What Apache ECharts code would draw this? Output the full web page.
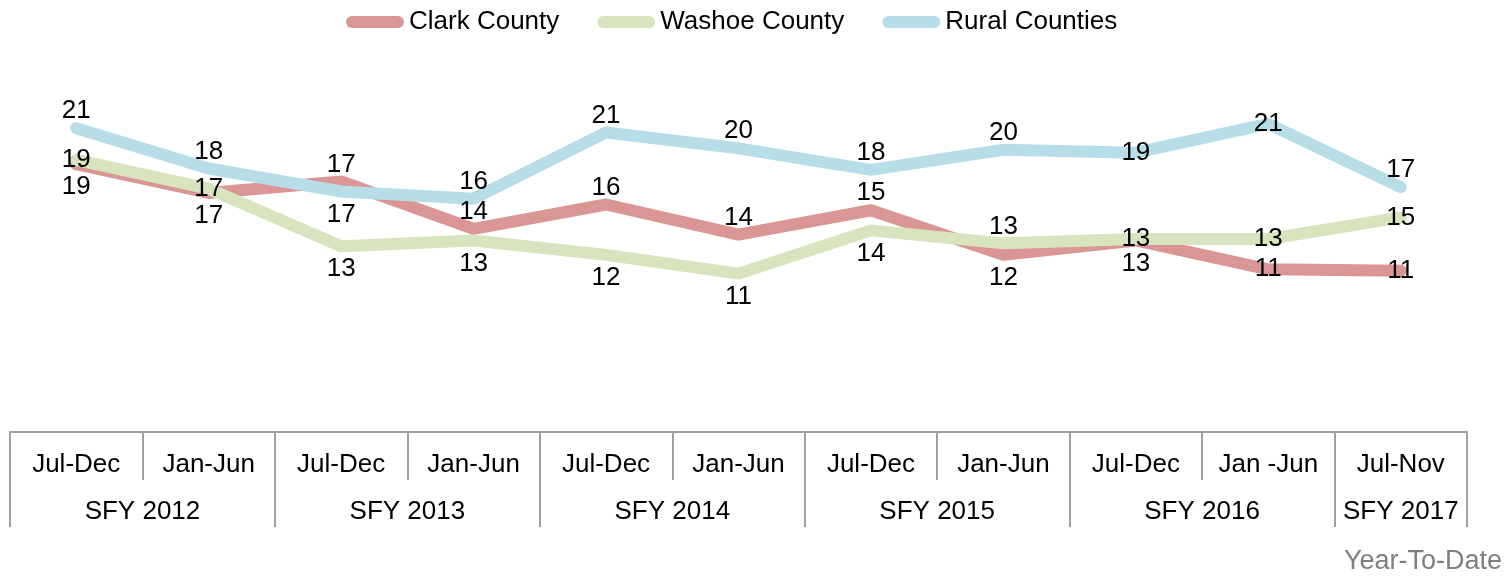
<!DOCTYPE html>
<html>
<head>
<meta charset="utf-8">
<title>Average by County Group</title>
<script src="https://cdn.jsdelivr.net/npm/echarts@6/dist/echarts.min.js"></script>
<style>
  html, body { margin: 0; padding: 0; background: #ffffff; }
  #chart { width: 1511px; height: 577px; }
</style>
</head>
<body>
<div id="chart"></div>
<script>
// Half-year periods along the bottom axis
const periods = ['Jul-Dec', 'Jan-Jun', 'Jul-Dec', 'Jan-Jun', 'Jul-Dec', 'Jan-Jun',
                 'Jul-Dec', 'Jan-Jun', 'Jul-Dec', 'Jan -Jun', 'Jul-Nov'];
// State fiscal years and how many periods each one covers
const years = ['SFY 2012', 'SFY 2013', 'SFY 2014', 'SFY 2015', 'SFY 2016', 'SFY 2017'];
const yearSpans = [2, 2, 2, 2, 2, 1];

// Series values per period
const clark  = [18.6, 16.6, 17.4, 14.1, 15.8, 13.7, 15.4, 12.3, 13.3, 11.3, 11.2];
const washoe = [18.9, 16.9, 12.9, 13.3, 12.3, 11.0, 14.0, 13.1, 13.4, 13.4, 14.9];
const rural  = [21.1, 18.3, 16.7, 16.2, 20.8, 19.7, 18.2, 19.6, 19.4, 21.4, 17.0];

// Where each value label sits relative to its point
const clarkLabelPos  = ['bottom', 'bottom', 'top', 'top', 'top', 'top', 'top', 'bottom', 'bottom', 'inside', 'inside'];
const washoeLabelPos = ['inside', 'inside', 'bottom', 'bottom', 'bottom', 'bottom', 'bottom', 'top', 'inside', 'inside', 'inside'];
const ruralLabelPos  = ['top', 'top', 'bottom', 'top', 'top', 'top', 'top', 'top', 'inside', 'inside', 'top'];

const FONT = '"Liberation Sans", Arial, sans-serif';
const RULE = '#a0a0a0';
const LABEL_GAP = { top: 4, bottom: 10, inside: 0 };

// first period index of each fiscal year, and the centre of each year's span
const yearStarts = [];
const yearCenters = [];
let acc = 0;
yearSpans.forEach(function (s) {
  yearStarts.push(acc);
  yearCenters.push(acc + s / 2);
  acc += s;
});

function lineSeries(name, values, color, labelPos) {
  return {
    name: name,
    type: 'line',
    xAxisIndex: 0,
    data: values.map(function (v, i) {
      return { value: v, label: { position: labelPos[i], distance: LABEL_GAP[labelPos[i]] } };
    }),
    showSymbol: true,
    symbol: 'circle',
    symbolSize: 0,
    itemStyle: { color: color },
    lineStyle: { color: color, width: 12, cap: 'round', join: 'round' },
    label: {
      show: true,
      color: '#000000',
      fontFamily: FONT,
      fontSize: 26,
      formatter: function (p) { return String(Math.round(p.value)); }
    },
    emphasis: { disabled: true },
    animation: false
  };
}

const chart = echarts.init(document.getElementById('chart'), null, { renderer: 'canvas' });

chart.setOption({
  backgroundColor: '#ffffff',
  animation: false,
  title: {
    text: 'Year-To-Date',
    right: 9,
    top: 548,
    padding: 0,
    textStyle: { color: '#7f7f7f', fontWeight: 'normal', fontFamily: FONT, fontSize: 27 }
  },
  legend: {
    left: 341,
    top: 4,
    itemWidth: 58,
    itemHeight: 12,
    itemGap: 38,
    icon: 'path://M6,0 H52 A6,6 0 0 1 52,12 H6 A6,6 0 0 1 6,0 Z',
    textStyle: { color: '#000000', fontFamily: FONT, fontSize: 26 },
    data: ['Clark County', 'Washoe County', 'Rural Counties']
  },
  grid: { left: 10, right: 44, top: 72, bottom: 145, containLabel: false },
  xAxis: [
    {
      // half-year labels with short separators
      type: 'category',
      position: 'bottom',
      data: periods,
      boundaryGap: true,
      axisLine: { show: true, lineStyle: { color: RULE, width: 2 } },
      axisTick: { show: true, interval: 0, length: 48, lineStyle: { color: RULE, width: 2 } },
      axisLabel: { interval: 0, margin: 20, color: '#000000', fontFamily: FONT, fontSize: 26 },
      splitLine: { show: false }
    },
    {
      // long separators between fiscal years
      type: 'category',
      position: 'bottom',
      data: periods,
      boundaryGap: true,
      axisLine: { show: false },
      axisTick: {
        show: true,
        length: 95,
        interval: function (idx) { return yearStarts.indexOf(idx) !== -1; },
        lineStyle: { color: RULE, width: 2 }
      },
      axisLabel: { show: false },
      splitLine: { show: false }
    },
    {
      // fiscal year labels centred on their spans
      type: 'value',
      position: 'bottom',
      min: 0,
      max: periods.length,
      interval: 0.5,
      axisLine: { show: false },
      axisTick: { show: false },
      splitLine: { show: false },
      axisLabel: {
        margin: 67,
        color: '#000000',
        fontFamily: FONT,
        fontSize: 26,
        showMinLabel: true,
        showMaxLabel: true,
        formatter: function (v) {
          const k = yearCenters.indexOf(v);
          return k === -1 ? '' : years[k];
        }
      }
    }
  ],
  yAxis: {
    type: 'value',
    min: 0,
    max: 25,
    show: false
  },
  series: [
    lineSeries('Clark County', clark, '#d99694', clarkLabelPos),
    lineSeries('Washoe County', washoe, '#d7e4bd', washoeLabelPos),
    lineSeries('Rural Counties', rural, '#b7dee8', ruralLabelPos)
  ]
});
</script>
</body>
</html>
